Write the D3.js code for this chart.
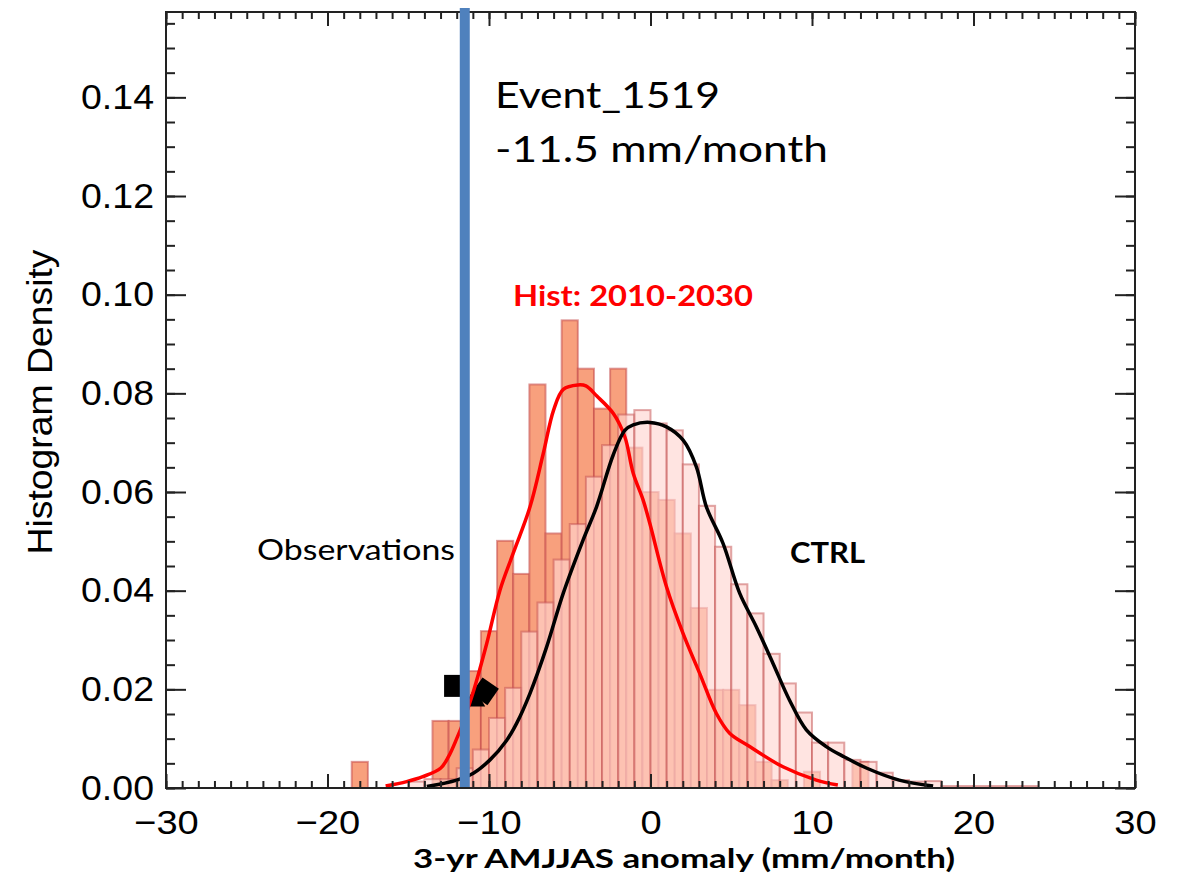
<!DOCTYPE html>
<html>
<head>
<meta charset="utf-8">
<script src="https://cdn.jsdelivr.net/npm/d3@7"></script>
<style>
  html, body { margin: 0; padding: 0; background: #ffffff; }
  svg { display: block; }
</style>
</head>
<body>
<svg id="chart" width="1183" height="875"></svg>
<script>
// Histogram of the 2010-2030 historical run (bins of 1 mm/month centred on integers)
const histCenters = [-18, -17, -16, -15, -14, -13, -12, -11, -10, -9, -8, -7, -6, -5, -4, -3, -2, -1,
                     0, 1, 2, 3, 4, 5, 6, 7, 8, 9, 10, 11, 12, 13];
const histDensity = [0.0053, 0, 0, 0, 0, 0.0136, 0.0136, 0.0237, 0.0318, 0.0501, 0.0434, 0.0818, 0.0516,
                     0.0948, 0.0850, 0.0769, 0.0850, 0.0690, 0.0600, 0.0584, 0.0516, 0.0365, 0.0199,
                     0.0199, 0.0168, 0.0053, 0.0016, 0, 0.0033, 0, 0, 0.0053];

// Histogram of the control run (bins of 1 mm/month starting on integers)
const ctrlLeftEdges = [-15, -14, -13, -12, -11, -10, -9, -8, -7, -6, -5, -4, -3, -2, -1, 0, 1, 2, 3, 4,
                       5, 6, 7, 8, 9, 10, 11, 12, 13, 14, 15, 16, 17, 18, 19, 20, 21, 22, 23];
const ctrlDensity = [0.0013, 0.0018, 0.0018, 0.0040, 0.0078, 0.0142, 0.0203, 0.0317, 0.0376, 0.0463,
                     0.0535, 0.0631, 0.0695, 0.0757, 0.0766, 0.0739, 0.0725, 0.0656, 0.0572, 0.0489,
                     0.0413, 0.0354, 0.0272, 0.0212, 0.0153, 0.0092, 0.0092, 0.0057, 0.0053, 0.0031,
                     0.0016, 0.0013, 0.0014, 0.0004, 0.0004, 0.0004, 0.0004, 0.0004, 0.0004];

// Smoothed density estimate of the historical run
const histKdeX = [-16.4, -15.1, -14.1, -13.0, -12.5, -12.0, -11.7, -11.0, -10.14, -9.32, -8.5, -7.46,
                  -6.64, -6.0, -5.4, -4.5, -4.0, -3.34, -2.3, -1.59, -1.07, -0.46, -0.04, 0.99, 2.02,
                  3.05, 4.08, 4.9, 6.14, 8.2, 10.27, 11.6];
const histKdeY = [0.0004, 0.0013, 0.0023, 0.0040, 0.0064, 0.0100, 0.0124, 0.0192, 0.0293, 0.0401, 0.0476,
                  0.0570, 0.0678, 0.0766, 0.0808, 0.0817, 0.0815, 0.0795, 0.0759, 0.0712, 0.0638, 0.0584,
                  0.0536, 0.0408, 0.0313, 0.0232, 0.0151, 0.0111, 0.0084, 0.0043, 0.0016, 0.0006];

// Smoothed density estimate of the control run
const ctrlKdeX = [-13.85, -12.0, -10.97, -9.94, -8.9, -8.29, -7.46, -6.43, -5.4, -4.17, -3.34, -2.31,
                  -1.59, -1.07, -0.04, 0.99, 2.02, 2.84, 3.46, 4.49, 5.52, 6.55, 7.58, 8.61, 9.65, 10.88,
                  12.0, 13.4, 15.4, 17.5];
const ctrlKdeY = [0.0003, 0.0016, 0.0030, 0.0057, 0.0097, 0.0131, 0.0192, 0.0286, 0.0395, 0.0503, 0.0570,
                  0.0675, 0.0725, 0.0736, 0.0741, 0.0732, 0.0705, 0.0651, 0.0570, 0.0496, 0.0395, 0.0327,
                  0.0253, 0.0178, 0.0118, 0.0084, 0.0063, 0.0040, 0.0016, 0.0004];

// Observed values (square, diamond, triangle)
const obsSquare = { x: -12.1, y: 0.0207 };
const obsDiamond = { x: -10.25, y: 0.0196 };
const obsTriangle = { x: -10.9, y: 0.0178 };

// Event threshold
const eventName = "Event_1519";
const eventValue = -11.5;

const xTicks = [-30, -20, -10, 0, 10, 20, 30];
const yTicks = [0.00, 0.02, 0.04, 0.06, 0.08, 0.10, 0.12, 0.14];

const svg = d3.select("#chart");
const plotLeft = 166, plotRight = 1135, plotTop = 12, plotBottom = 788;

const x = d3.scaleLinear().domain([-30, 30]).range([plotLeft, plotRight]);
const y = d3.scaleLinear().domain([0, 0.1573]).range([plotBottom, plotTop]);

// Historical bars
svg.append("g").selectAll("rect")
  .data(histCenters.map((c, i) => ({ c, v: histDensity[i] })).filter(d => d.v > 0))
  .join("rect")
  .attr("x", d => x(d.c - 0.5))
  .attr("width", d => x(d.c + 0.5) - x(d.c - 0.5))
  .attr("y", d => y(d.v))
  .attr("height", d => y(0) - y(d.v))
  .attr("fill", "#f8a07d")
  .attr("stroke", "rgba(196,72,72,0.55)")
  .attr("stroke-width", 2);

// Control bars, translucent over the historical ones
svg.append("g").selectAll("rect")
  .data(ctrlLeftEdges.map((e, i) => ({ e, v: ctrlDensity[i] })))
  .join("rect")
  .attr("x", d => x(d.e))
  .attr("width", d => x(d.e + 1) - x(d.e))
  .attr("y", d => y(d.v))
  .attr("height", d => y(0) - y(d.v))
  .attr("fill", "rgba(255,212,208,0.64)")
  .attr("stroke", "rgba(196,80,80,0.5)")
  .attr("stroke-width", 2);

// Observation markers
const mk = svg.append("g").attr("fill", "#000");
mk.append("rect")
  .attr("x", x(obsSquare.x) - 11).attr("y", y(obsSquare.y) - 11)
  .attr("width", 22).attr("height", 22);
mk.append("path")
  .attr("d", d3.symbol(d3.symbolTriangle, 200)())
  .attr("transform", `translate(${x(obsTriangle.x)},${y(obsTriangle.y)})`);
mk.append("rect")
  .attr("x", -10).attr("y", -10).attr("width", 20).attr("height", 20)
  .attr("transform", `translate(${x(obsDiamond.x)},${y(obsDiamond.y)}) rotate(35)`);

// Density curves
const line = d3.line().x(d => x(d[0])).y(d => y(d[1])).curve(d3.curveCatmullRom.alpha(0.5));
svg.append("path")
  .attr("d", line(histKdeX.map((v, i) => [v, histKdeY[i]])))
  .attr("fill", "none").attr("stroke", "#ff0000").attr("stroke-width", 3.5);
svg.append("path")
  .attr("d", line(ctrlKdeX.map((v, i) => [v, ctrlKdeY[i]])))
  .attr("fill", "none").attr("stroke", "#000000").attr("stroke-width", 3.5);

// Axes: ticks point inward on all four sides
const axisStyle = g => {
  g.select(".domain").remove();
  g.selectAll(".tick line").attr("stroke", "#222").attr("stroke-width", 2);
};
const labelFont = "'Liberation Sans', Arial, Helvetica, sans-serif";

const xMinor = d3.range(-30, 31, 1);
const yMinor = d3.range(0, 0.1571, 0.005);

svg.append("g").attr("transform", `translate(0,${plotBottom})`)
  .call(d3.axisBottom(x).tickValues(xMinor).tickSize(-7).tickFormat(""))
  .call(axisStyle);
svg.append("g").attr("transform", `translate(0,${plotBottom})`)
  .call(d3.axisBottom(x).tickValues(xTicks).tickSize(-14).tickPadding(22)
    .tickFormat(d => (d < 0 ? "\u2212" + Math.abs(d) : String(d))))
  .call(axisStyle)
  .call(g => g.selectAll("text")
    .attr("fill", "#000").attr("font-size", 34).attr("font-family", labelFont)
    .attr("transform", "scale(1.12,1)"));
svg.append("g").attr("transform", `translate(0,${plotTop})`)
  .call(d3.axisTop(x).tickValues(xMinor).tickSize(-7).tickFormat(""))
  .call(axisStyle);
svg.append("g").attr("transform", `translate(0,${plotTop})`)
  .call(d3.axisTop(x).tickValues(xTicks).tickSize(-14).tickFormat(""))
  .call(axisStyle);

svg.append("g").attr("transform", `translate(${plotLeft},0)`)
  .call(d3.axisLeft(y).tickValues(yMinor).tickSize(-9).tickFormat(""))
  .call(axisStyle);
svg.append("g").attr("transform", `translate(${plotLeft},0)`)
  .call(d3.axisLeft(y).tickValues(yTicks).tickSize(-20).tickPadding(12).tickFormat(d3.format(".2f")))
  .call(axisStyle)
  .call(g => g.selectAll("text")
    .attr("fill", "#000").attr("font-size", 35).attr("font-family", labelFont)
    .attr("textLength", 73).attr("lengthAdjust", "spacingAndGlyphs"));
svg.append("g").attr("transform", `translate(${plotRight},0)`)
  .call(d3.axisRight(y).tickValues(yMinor).tickSize(-9).tickFormat(""))
  .call(axisStyle);
svg.append("g").attr("transform", `translate(${plotRight},0)`)
  .call(d3.axisRight(y).tickValues(yTicks).tickSize(-20).tickFormat(""))
  .call(axisStyle);

// Plot frame
svg.append("rect")
  .attr("x", plotLeft).attr("y", plotTop)
  .attr("width", plotRight - plotLeft).attr("height", plotBottom - plotTop)
  .attr("fill", "none").attr("stroke", "#222").attr("stroke-width", 2);

// Event threshold line
svg.append("line")
  .attr("x1", x(eventValue)).attr("x2", x(eventValue))
  .attr("y1", plotTop - 4).attr("y2", y(0) - 1)
  .attr("stroke", "#4f81bd").attr("stroke-width", 10);

// Annotations
const sans = "Lato, 'Open Sans', sans-serif";
const addText = (txt, tx, ty, size, opts = {}) => svg.append("text")
  .attr("x", tx).attr("y", ty)
  .attr("font-family", opts.family || sans)
  .attr("font-size", size)
  .attr("font-weight", opts.bold ? "bold" : "normal")
  .attr("fill", opts.fill || "#000")
  .attr("textLength", opts.len || null)
  .attr("lengthAdjust", opts.len ? "spacingAndGlyphs" : null)
  .text(txt);

addText(eventName, 495, 108, 37, { len: 225 });
addText(`${eventValue} mm/month`, 495, 162, 37, { len: 333 });
addText("Hist: 2010-2030", 513, 306, 28, { bold: true, fill: "#ff0000", len: 240 });
addText("Observations", 257, 560, 28, { len: 198 });
addText("CTRL", 790, 563, 28, { bold: true, len: 75 });
addText("3-yr AMJJAS anomaly (mm/month)", 413, 868, 27, { bold: true, len: 542 });

svg.append("text")
  .attr("transform", "translate(52,402) rotate(-90)")
  .attr("text-anchor", "middle")
  .attr("font-family", labelFont)
  .attr("font-size", 35)
  .attr("textLength", 305)
  .attr("lengthAdjust", "spacingAndGlyphs")
  .text("Histogram Density");
</script>
</body>
</html>
